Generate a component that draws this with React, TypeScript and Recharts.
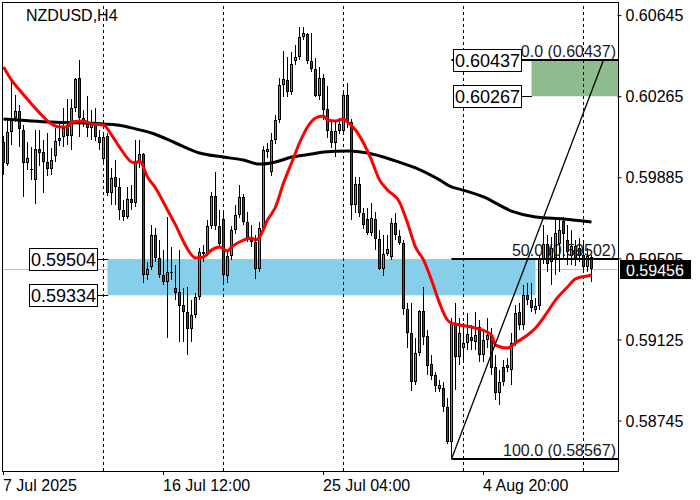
import React from 'react';
import { ComposedChart, Bar, Line, XAxis, YAxis, ReferenceLine, ReferenceArea, ReferenceDot } from 'recharts';

const FONT = '"Liberation Sans", Arial, sans-serif';

const OPEN = [
  0.60053,0.59949,0.60099,0.60165,0.60198,0.60109,0.59954,0.59926,0.59875,0.60020,
  0.60006,0.59959,0.59926,0.59987,0.60057,0.60076,0.60132,0.60081,0.60212,0.60353,
  0.60165,0.60146,0.60118,0.60142,0.60076,0.59973,0.60081,0.59814,0.59889,0.59842,
  0.59734,0.59701,0.59786,0.59767,0.59964,0.59996,0.59429,0.59467,0.59617,0.59509,
  0.59429,0.59396,0.59443,0.59368,0.59350,0.59289,0.59256,0.59176,0.59242,0.59326,
  0.59528,0.59532,0.59659,0.59800,0.59659,0.59692,0.59425,0.59518,0.59640,0.59710,
  0.59795,0.59678,0.59603,0.59584,0.59457,0.59650,0.60006,0.59912,0.60062,0.60156,
  0.60320,0.60343,0.60287,0.60432,0.60451,0.60545,0.60559,0.60432,0.60395,0.60268,
  0.60353,0.60207,0.60104,0.60048,0.60104,0.60104,0.60273,0.60146,0.59757,0.59856,
  0.59720,0.59692,0.59626,0.59692,0.59598,0.59457,0.59528,0.59514,0.59673,0.59612,
  0.59579,0.59270,0.59157,0.58928,0.59064,0.59261,0.59143,0.59012,0.58961,0.58895,
  0.58900,0.58811,0.58647,0.59204,0.59045,0.59087,0.59111,0.59139,0.59115,0.59186,
  0.59054,0.59125,0.59148,0.58998,0.58876,0.58998,0.58993,0.58984,0.59111,0.59256,
  0.59195,0.59336,0.59312,0.59265,0.59284,0.59504,0.59575,0.59490,0.59509,0.59575,
  0.59682,0.59593,0.59518,0.59565,0.59556,0.59523,0.59467,0.59514,
];
const HIGH = [
  0.60081,0.60156,0.60353,0.60273,0.60226,0.60132,0.60053,0.60029,0.60109,0.60109,
  0.60062,0.60095,0.60024,0.60118,0.60137,0.60212,0.60254,0.60254,0.60353,0.60437,
  0.60203,0.60268,0.60203,0.60212,0.60109,0.60099,0.60095,0.59931,0.59968,0.59884,
  0.59781,0.59842,0.59851,0.60062,0.60062,0.60001,0.59490,0.59664,0.59650,0.59593,
  0.59546,0.59701,0.59560,0.59476,0.59546,0.59368,0.59373,0.59312,0.59345,0.59556,
  0.59570,0.59687,0.59818,0.59912,0.59734,0.59734,0.59546,0.59659,0.59757,0.59851,
  0.59809,0.59725,0.59664,0.59617,0.59678,0.60034,0.60048,0.60095,0.60179,0.60353,
  0.60479,0.60451,0.60475,0.60507,0.60592,0.60592,0.60564,0.60564,0.60446,0.60404,
  0.60371,0.60315,0.60146,0.60156,0.60165,0.60287,0.60329,0.60161,0.59889,0.59889,
  0.59743,0.59743,0.59767,0.59725,0.59640,0.59617,0.59617,0.59696,0.59720,0.59640,
  0.59593,0.59298,0.59298,0.59134,0.59265,0.59373,0.59171,0.59054,0.58975,0.58937,
  0.58928,0.58853,0.59228,0.59298,0.59228,0.59204,0.59251,0.59195,0.59256,0.59218,
  0.59171,0.59228,0.59181,0.59054,0.58984,0.59031,0.59040,0.59157,0.59289,0.59298,
  0.59382,0.59392,0.59392,0.59321,0.59518,0.59664,0.59617,0.59607,0.59687,0.59696,
  0.59701,0.59664,0.59640,0.59593,0.59603,0.59579,0.59556,0.59523,
];
const LOW = [
  0.59898,0.59940,0.60039,0.60146,0.60029,0.59795,0.59921,0.59875,0.59762,0.59940,
  0.59814,0.59893,0.59898,0.59959,0.60034,0.60029,0.60039,0.60015,0.60193,0.60076,
  0.60123,0.60076,0.60062,0.60057,0.60015,0.59959,0.59800,0.59757,0.59757,0.59687,
  0.59682,0.59692,0.59734,0.59748,0.59931,0.59392,0.59406,0.59453,0.59490,0.59415,
  0.59382,0.59134,0.59406,0.59312,0.59115,0.59115,0.59054,0.59115,0.59228,0.59312,
  0.59490,0.59518,0.59645,0.59640,0.59556,0.59392,0.59392,0.59500,0.59621,0.59696,
  0.59664,0.59584,0.59560,0.59411,0.59443,0.59631,0.59978,0.59893,0.60043,0.60142,
  0.60264,0.60264,0.60273,0.60414,0.60437,0.60531,0.60418,0.60381,0.60264,0.60250,
  0.60156,0.60071,0.60024,0.59982,0.60090,0.60090,0.60118,0.59687,0.59720,0.59701,
  0.59645,0.59617,0.59612,0.59546,0.59453,0.59425,0.59518,0.59500,0.59593,0.59570,
  0.59242,0.59087,0.58886,0.58914,0.59050,0.59101,0.58961,0.58937,0.58881,0.58881,
  0.58787,0.58637,0.58567,0.58890,0.59007,0.59021,0.59078,0.59078,0.59078,0.59021,
  0.59021,0.59087,0.58961,0.58843,0.58820,0.58909,0.58975,0.58914,0.59096,0.59171,
  0.59171,0.59289,0.59256,0.59246,0.59265,0.59481,0.59443,0.59382,0.59429,0.59443,
  0.59509,0.59476,0.59476,0.59471,0.59490,0.59453,0.59443,0.59396,
];
const CLOSE = [
  0.59954,0.60099,0.60165,0.60198,0.60114,0.59954,0.59978,0.59921,0.60020,0.60001,
  0.59959,0.59926,0.59968,0.60057,0.60071,0.60118,0.60081,0.60212,0.60348,0.60165,
  0.60146,0.60118,0.60137,0.60076,0.60048,0.60076,0.59814,0.59884,0.59842,0.59734,
  0.59701,0.59786,0.59767,0.59964,0.59996,0.59429,0.59457,0.59617,0.59509,0.59429,
  0.59396,0.59443,0.59439,0.59345,0.59284,0.59256,0.59176,0.59242,0.59326,0.59537,
  0.59537,0.59659,0.59800,0.59659,0.59575,0.59429,0.59518,0.59640,0.59710,0.59795,
  0.59678,0.59603,0.59584,0.59457,0.59650,0.60015,0.60020,0.60062,0.60156,0.60320,
  0.60348,0.60287,0.60418,0.60451,0.60545,0.60564,0.60432,0.60395,0.60268,0.60353,
  0.60203,0.60104,0.60048,0.60104,0.60137,0.60273,0.60146,0.59757,0.59856,0.59720,
  0.59664,0.59626,0.59696,0.59598,0.59457,0.59528,0.59551,0.59673,0.59617,0.59579,
  0.59270,0.59157,0.58928,0.59064,0.59261,0.59139,0.59003,0.58956,0.58909,0.58914,
  0.58811,0.58647,0.59204,0.59045,0.59157,0.59111,0.59153,0.59120,0.59148,0.59054,
  0.59125,0.59148,0.58993,0.58876,0.58928,0.58928,0.59007,0.59111,0.59251,0.59195,
  0.59336,0.59312,0.59275,0.59284,0.59504,0.59575,0.59481,0.59556,0.59626,0.59640,
  0.59621,0.59537,0.59565,0.59509,0.59518,0.59467,0.59518,0.59456,
];

// moving averages: [candle index, price]
const MA_FAST: [number, number][] = [
  [0,0.60404],[2,0.60343],[4,0.60296],[7,0.60231],[9,0.60189],[12,0.60137],[14,0.60123],[16,0.60123],
  [17,0.60146],[20,0.60151],[22,0.60137],[25,0.60132],[27,0.60086],[29,0.60029],[32,0.59959],[33,0.59954],
  [34,0.59964],[36,0.59889],[38,0.59837],[41,0.59734],[43,0.59664],[46,0.59551],[48,0.59509],[50,0.59514],
  [52,0.59546],[54,0.59560],[56,0.59542],[57,0.59560],[60,0.59593],[62,0.59603],[63,0.59593],[64,0.59607],
  [66,0.59687],[68,0.59748],[70,0.59860],[72,0.59954],[74,0.60048],[76,0.60123],[78,0.60165],[80,0.60175],
  [81,0.60156],[83,0.60151],[85,0.60161],[86,0.60146],[88,0.60109],[90,0.60048],[92,0.59968],[94,0.59875],
  [96,0.59828],[99,0.59771],[101,0.59673],[103,0.59560],[105,0.59500],[107,0.59406],[109,0.59298],[111,0.59218],
  [112,0.59204],[114,0.59195],[118,0.59181],[122,0.59148],[123,0.59101],[126,0.59087],[128,0.59111],[131,0.59148],
  [133,0.59181],[136,0.59256],[138,0.59312],[141,0.59373],[143,0.59411],[146,0.59425],[147,0.59429],
];
const MA_SLOW: [number, number][] = [
  [0,0.60161],[12,0.60146],[25,0.60137],[30,0.60128],[33,0.60114],[37,0.60095],[43,0.60048],[49,0.60001],
  [55,0.59982],[60,0.59968],[64,0.59949],[68,0.59959],[72,0.59982],[77,0.59996],[80,0.60006],[86,0.60010],
  [91,0.60001],[98,0.59964],[103,0.59931],[109,0.59875],[112,0.59842],[114,0.59832],[120,0.59795],[127,0.59729],
  [133,0.59701],[140,0.59692],[147,0.59678],
];

const SLOTS = 154;
const X_TICKS = [0, 40, 80, 120];
const X_LABELS = ['7 Jul 2025', '16 Jul 12:00', '25 Jul 04:00', '4 Aug 20:00'];
const GRID_X = [25, 55, 85, 115, 145];
const Y_TICKS = [0.58745, 0.59125, 0.59505, 0.59885, 0.60265, 0.60645];
const Y_DOMAIN: [number, number] = [0.585107, 0.607088];

const BUY_ZONE = { from: 26, to: 133, low: 0.59334, high: 0.59504 };
const TARGET_ZONE = { from: 132, low: 0.60267, high: 0.60437 };
const FIB_LEVELS: [string, number][] = [['0.0', 0.60437], ['50.0', 0.59502], ['100.0', 0.58567]];
const FIB_RANGE = { from: 112, to: 153 };
const TREND = { x1: 112, p1: 0.58567, x2: 150, p2: 0.60437 };
const LAST_PRICE = 0.59456;
const SYMBOL = 'NZDUSD,H4';

const data = Array.from({ length: SLOTS }, (_, i) => {
  const has = i < OPEN.length;
  return {
    i,
    range: has ? [LOW[i], HIGH[i]] : null,
    open: has ? OPEN[i] : null,
    high: has ? HIGH[i] : null,
    low: has ? LOW[i] : null,
    close: has ? CLOSE[i] : null,
    fast: null as number | null,
    slow: null as number | null,
  };
});
MA_FAST.forEach(([i, v]) => { data[i].fast = v; });
MA_SLOW.forEach(([i, v]) => { data[i].slow = v; });

const Candle = (props: any) => {
  const { x, y, width, height, payload } = props;
  if (!payload || payload.open == null || y == null || height == null) return <g />;
  const top = Math.min(y, y + height);
  const bot = Math.max(y, y + height);
  const { open, close, high, low } = payload;
  const span = high - low;
  const toY = (p: number) => (span > 0 ? top + ((high - p) / span) * (bot - top) : top);
  const cx = Math.round(x + width / 2 - 0.5) + 0.5;
  const yo = toY(open);
  const yc = toY(close);
  const bTop = Math.round(Math.min(yo, yc));
  const bH = Math.max(1, Math.round(Math.abs(yo - yc)));
  const up = close >= open;
  const fill = up ? '#3fb83f' : '#f00000';
  return (
    <g>
      <line x1={cx} x2={cx} y1={Math.round(top)} y2={Math.round(bot)} stroke="#000" strokeWidth={1} />
      {bH <= 2 ? (
        <rect x={cx - 1.5} y={bTop} width={3} height={bH} fill="#000" />
      ) : (
        <rect x={cx - 1} y={bTop + 0.5} width={2} height={bH - 1} fill={fill} stroke="#000" strokeWidth={1} />
      )}
    </g>
  );
};

const priceTag = (value: number) => (p: any) => {
  const cx = Math.round(p.cx);
  const cy = Math.round(p.cy) + 0.5;
  return (
    <g>
      <line x1={cx - 10} x2={cx} y1={cy} y2={cy} stroke="#000" strokeWidth={1} />
      <rect x={cx - 78.5} y={cy - 11} width={68} height={22} fill="#fff" stroke="#000" strokeWidth={1} />
      <text x={cx - 44.5} y={cy + 6.5} textAnchor="middle" fontSize={18} fontFamily={FONT} fill="#000">
        {value.toFixed(5)}
      </text>
    </g>
  );
};

const fibShape = (level: string, price: number) => (p: any) => {
  const y = Math.round(p.y1);
  const left = Math.min(p.x1, p.x2);
  const right = Math.max(p.x1, p.x2) + 2.5;
  return (
    <g>
      <line x1={left} x2={right} y1={y} y2={y} stroke="#000" strokeWidth={2} />
      <text x={right - 2} y={y - 3.5} textAnchor="end" fontSize={16} fontFamily={FONT} fill="#1a1a1a">
        {`${level} (${price.toFixed(5)})`}
      </text>
    </g>
  );
};

const lastLineShape = (p: any) => {
  const y = Math.round(p.y1) + 0.5;
  return <line x1={p.x1} x2={p.x2} y1={y} y2={y} stroke="#c0c0c0" strokeWidth={1} />;
};

const lastBoxShape = (p: any) => {
  const y = Math.round(p.y1);
  const right = Math.max(p.x1, p.x2);
  return (
    <g>
      <rect x={right + 2.5} y={y - 9} width={71} height={19} fill="#000" />
      <text x={right + 8.5} y={y + 6.5} fontSize={16} fontFamily={FONT} fill="#fff">
        {LAST_PRICE.toFixed(5)}
      </text>
    </g>
  );
};

const zoneShape = (trimRight: boolean, color: string) => (p: any) => (
  <rect
    x={p.x + 2}
    y={p.y}
    width={Math.max(0, p.width - (trimRight ? 4 : 1.5))}
    height={p.height}
    fill={color}
  />
);

const XTick = (props: any) => {
  const idx = X_TICKS.indexOf(props.payload.value);
  return (
    <text x={props.x - 0.5} y={props.y} dy="0.71em" textAnchor="start" fontSize={16} fontFamily={FONT} fill="#000">
      {idx >= 0 ? X_LABELS[idx] : ''}
    </text>
  );
};

export default function App() {
  return (
    <div style={{ position: 'relative', width: 700, height: 500, background: '#fff' }}>
      <style>{'body{margin:0;background:#fff}'}</style>
      <ComposedChart
        width={700}
        height={500}
        data={data}
        margin={{ top: 2, right: 0, left: 1.5, bottom: 0 }}
        barCategoryGap="10%"
      >
        <XAxis
          dataKey="i"
          type="category"
          ticks={X_TICKS}
          interval={0}
          height={29}
          axisLine={false}
          tickLine={{ stroke: '#000' }}
          tickSize={4}
          tickMargin={5}
          tick={<XTick />}
        />
        <YAxis
          orientation="right"
          type="number"
          domain={Y_DOMAIN}
          allowDataOverflow
          ticks={Y_TICKS}
          width={82.5}
          axisLine={false}
          tickLine={{ stroke: '#000' }}
          tickSize={4}
          tickMargin={4}
          tickFormatter={(v: number) => v.toFixed(5)}
          tick={{ fill: '#000', fontSize: 16, fontFamily: FONT }}
        />
        <ReferenceArea
          x1={BUY_ZONE.from}
          x2={BUY_ZONE.to}
          y1={BUY_ZONE.low}
          y2={BUY_ZONE.high}
          shape={zoneShape(true, '#87ceeb')}
          zIndex={50}
        />
        <ReferenceArea
          x1={TARGET_ZONE.from}
          y1={TARGET_ZONE.low}
          y2={TARGET_ZONE.high}
          shape={zoneShape(false, '#8fbc8f')}
          zIndex={50}
        />
        <ReferenceLine y={LAST_PRICE} shape={lastLineShape} zIndex={60} />
        {GRID_X.map((gx) => (
          <ReferenceLine key={gx} x={gx} stroke="#000" strokeDasharray="3 3" strokeWidth={1} zIndex={70} />
        ))}
        <Bar dataKey="range" shape={<Candle />} isAnimationActive={false} />
        <Line
          dataKey="slow"
          type="monotone"
          stroke="#000"
          strokeWidth={3}
          dot={false}
          activeDot={false}
          connectNulls
          isAnimationActive={false}
        />
        <Line
          dataKey="fast"
          type="monotone"
          stroke="#ff0000"
          strokeWidth={3}
          dot={false}
          activeDot={false}
          connectNulls
          isAnimationActive={false}
        />
        {FIB_LEVELS.map(([lvl, price]) => (
          <ReferenceLine
            key={lvl}
            segment={[{ x: FIB_RANGE.from, y: price }, { x: FIB_RANGE.to, y: price }]}
            shape={fibShape(lvl, price)}
            zIndex={700}
          />
        ))}
        <ReferenceLine
          segment={[{ x: TREND.x1, y: TREND.p1 }, { x: TREND.x2, y: TREND.p2 }]}
          stroke="#000"
          strokeWidth={1.3}
          zIndex={700}
        />
        <ReferenceDot x={BUY_ZONE.from} y={BUY_ZONE.high} r={0} shape={priceTag(BUY_ZONE.high)} zIndex={800} />
        <ReferenceDot x={BUY_ZONE.from} y={BUY_ZONE.low} r={0} shape={priceTag(BUY_ZONE.low)} zIndex={800} />
        <ReferenceDot x={TARGET_ZONE.from} y={TARGET_ZONE.high} r={0} shape={priceTag(TARGET_ZONE.high)} zIndex={800} />
        <ReferenceDot x={TARGET_ZONE.from} y={TARGET_ZONE.low} r={0} shape={priceTag(TARGET_ZONE.low)} zIndex={800} />
        <ReferenceLine y={LAST_PRICE} shape={lastBoxShape} zIndex={900} />
      </ComposedChart>
      <svg
        width={700}
        height={500}
        style={{ position: 'absolute', left: 0, top: 0, pointerEvents: 'none' }}
      >
        <rect x={2.5} y={2.5} width={616} height={469} fill="none" stroke="#000" strokeWidth={1} />
        <text x={26} y={21} fontSize={16} fontFamily={FONT} fill="#000">{SYMBOL}</text>
      </svg>
    </div>
  );
}
